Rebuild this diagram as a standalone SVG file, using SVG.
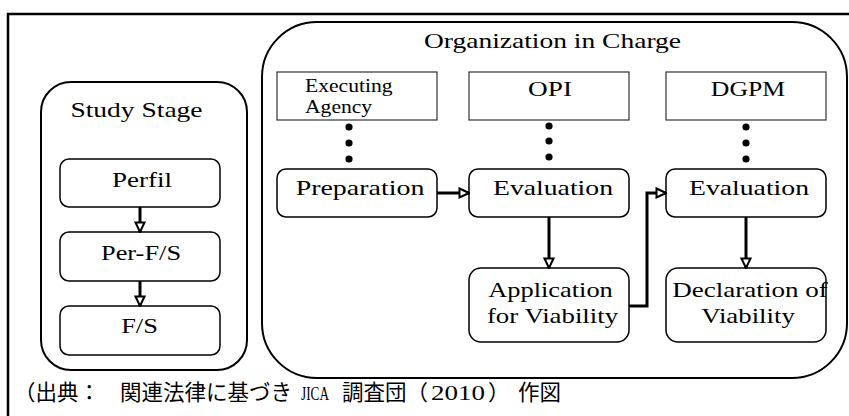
<svg xmlns="http://www.w3.org/2000/svg" width="849" height="416" viewBox="0 0 849 416">
  <style>
    .lbl { font-family: 'Liberation Serif', 'Times New Roman', serif; font-size: 22px; fill: #000; text-anchor: middle; }
    .sm { font-size: 18px; text-anchor: start; }
    .foot { font-family: 'Liberation Serif', 'Noto Sans CJK JP', serif; font-size: 21.5px; fill: #000; }
    .narrow { font-size: 19px; }
    .frame { fill: none; stroke: #000; stroke-width: 2.5; }
    .grp { fill: #fff; stroke: #000; stroke-width: 2; }
    .rbox { fill: #fff; stroke: #000; stroke-width: 1.5; }
    .sq { fill: #fff; stroke: #333; stroke-width: 1.2; }
    .conn { fill: none; stroke: #000; stroke-width: 3; marker-end: url(#ah); }
    .dot { fill: #000; }
  </style>
  <defs>
    <marker id="ah" markerUnits="userSpaceOnUse" viewBox="0 0 12 12" markerWidth="12" markerHeight="12" refX="11" refY="6" orient="auto">
      <path d="M1.5,1.5 L11,6 L1.5,10.5 Z" fill="#fff" stroke="#000" stroke-width="2"/>
    </marker>
  </defs>

  <rect width="849" height="416" fill="#fff"/>
  <path class="frame" d="M8,416 V14 H849"/>

  <!-- Study stage (labels are widened horizontally for a broad serif face) -->
  <g id="study-stage">
    <rect class="grp" x="41" y="82" width="206" height="288" rx="30"/>
    <text class="lbl" transform="translate(136.5,117) scale(1.25,1)">Study Stage</text>
  </g>
  <g id="perfil">
    <rect class="rbox" x="60" y="159" width="160" height="48" rx="9"/>
    <text class="lbl" transform="translate(142,187) scale(1.23,1)">Perfil</text>
  </g>
  <g id="pre-fs">
    <rect class="rbox" x="60" y="232" width="160" height="49" rx="9"/>
    <text class="lbl" transform="translate(141,260) scale(1.2,1)">Per-F/S</text>
  </g>
  <g id="fs">
    <rect class="rbox" x="60" y="306" width="160" height="49" rx="9"/>
    <text class="lbl" transform="translate(139.5,333) scale(1.2,1)">F/S</text>
  </g>

  <!-- Organization in charge -->
  <g id="organization">
    <rect class="grp" x="262" y="22" width="585" height="356" rx="55"/>
    <text class="lbl" transform="translate(552.5,48) scale(1.25,1)">Organization in Charge</text>
  </g>
  <g id="executing-agency">
    <rect class="sq" x="277" y="72" width="160" height="48"/>
    <text class="lbl sm" transform="translate(305,92) scale(1.2,1)">Executing</text>
    <text class="lbl sm" transform="translate(305,113) scale(1.2,1)">Agency</text>
    <circle class="dot" cx="349" cy="127" r="3.6"/>
    <circle class="dot" cx="349" cy="143" r="3.6"/>
    <circle class="dot" cx="349" cy="159" r="3.6"/>
  </g>
  <g id="opi">
    <rect class="sq" x="469" y="72" width="160" height="48"/>
    <text class="lbl" transform="translate(550,96) scale(1.24,1)">OPI</text>
    <circle class="dot" cx="549" cy="126" r="3.6"/>
    <circle class="dot" cx="549" cy="141" r="3.6"/>
    <circle class="dot" cx="549" cy="157" r="3.6"/>
  </g>
  <g id="dgpm">
    <rect class="sq" x="666" y="72" width="160" height="48"/>
    <text class="lbl" transform="translate(748,96) scale(1.17,1)">DGPM</text>
    <circle class="dot" cx="746" cy="127" r="3.6"/>
    <circle class="dot" cx="746" cy="143" r="3.6"/>
    <circle class="dot" cx="746" cy="159" r="3.6"/>
  </g>
  <g id="preparation">
    <rect class="rbox" x="277" y="169" width="160" height="48" rx="9"/>
    <text class="lbl" transform="translate(360,195) scale(1.27,1)">Preparation</text>
  </g>
  <g id="evaluation-opi">
    <rect class="rbox" x="469" y="169" width="160" height="48" rx="9"/>
    <text class="lbl" transform="translate(553,195) scale(1.26,1)">Evaluation</text>
  </g>
  <g id="evaluation-dgpm">
    <rect class="rbox" x="666" y="169" width="160" height="48" rx="9"/>
    <text class="lbl" transform="translate(749,195) scale(1.26,1)">Evaluation</text>
  </g>
  <g id="application">
    <rect class="rbox" x="469" y="268" width="160" height="74" rx="12"/>
    <text class="lbl" transform="translate(550.5,297) scale(1.2,1)">Application</text>
    <text class="lbl" transform="translate(552.5,323) scale(1.22,1)">for Viability</text>
  </g>
  <g id="declaration">
    <rect class="rbox" x="666" y="268" width="160" height="74" rx="12"/>
    <text class="lbl" transform="translate(750,297) scale(1.23,1)">Declaration of</text>
    <text class="lbl" transform="translate(748,323) scale(1.22,1)">Viability</text>
  </g>

  <!-- Connectors -->
  <g id="connectors">
    <path class="conn" d="M140,207 V232"/>
    <path class="conn" d="M140,281 V306"/>
    <path class="conn" d="M437,193 H469"/>
    <path class="conn" d="M549,217 V268"/>
    <path class="conn" d="M629,306 H647 V193 H666"/>
    <path class="conn" d="M746,217 V268"/>
  </g>

  <!-- Source note -->
  <g id="source-note">
    <text class="foot" x="14" y="400">（出典：</text>
    <text class="foot" x="120" y="400">関連法律に基づき</text>
    <text class="foot narrow" x="301" y="400" textLength="28" lengthAdjust="spacingAndGlyphs">JICA</text>
    <text class="foot" x="342" y="400">調査団（</text>
    <text class="foot" x="431" y="400" textLength="54" lengthAdjust="spacingAndGlyphs">2010</text>
    <text class="foot" x="488" y="400">）</text>
    <text class="foot" x="518" y="400">作図</text>
  </g>
</svg>
